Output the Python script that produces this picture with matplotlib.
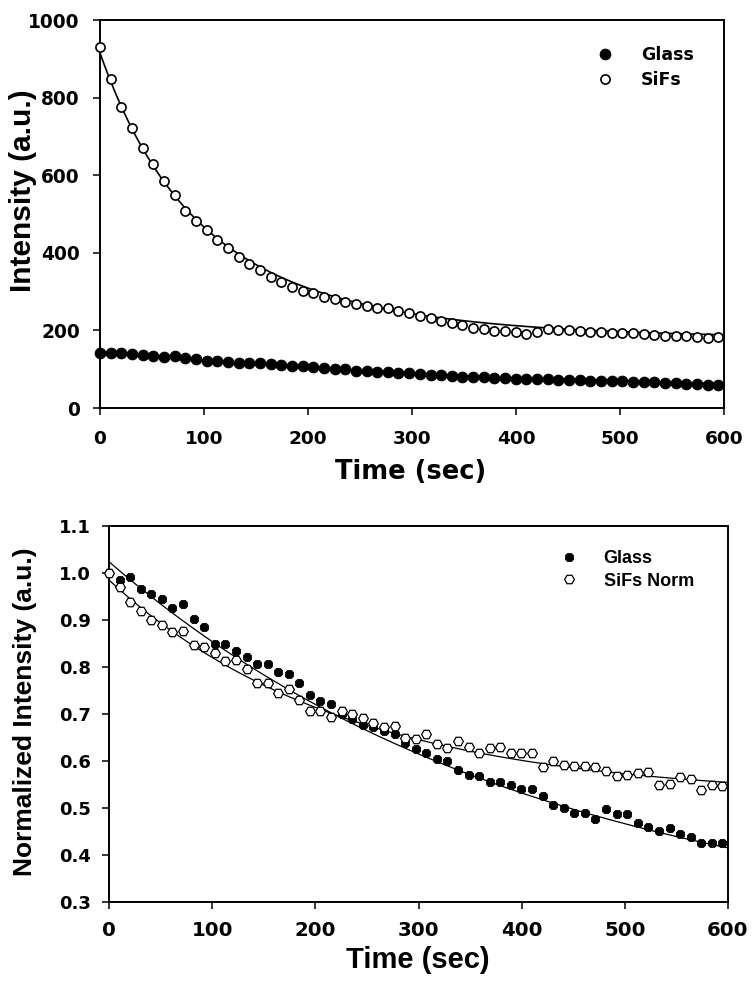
import matplotlib
matplotlib.use('Agg')
import matplotlib.pyplot as plt
import numpy as np

# ---------------- data ----------------
time_s = [0, 10.3, 20.5, 30.8, 41, 51.3, 61.5, 71.8, 82, 92.3, 102.5, 112.8, 123, 133.3,
          143.5, 153.8, 164, 174.3, 184.5, 194.8, 205, 215.3, 225.5, 235.8, 246, 256.3,
          266.5, 276.8, 287, 297.3, 307.5, 317.8, 328, 338.3, 348.5, 358.8, 369, 379.3,
          389.5, 399.8, 410, 420.3, 430.5, 440.8, 451, 461.3, 471.5, 481.8, 492, 502.3,
          512.5, 522.8, 533, 543.3, 553.5, 563.8, 574, 584.3, 594.5]

glass_raw = [143, 141, 143, 138, 136, 134, 131, 134, 128, 126,
             122, 121, 119, 117, 115, 115, 113, 112, 109, 107,
             105, 104, 100, 100, 96, 95, 94, 92, 90, 89,
             88, 86, 85, 83, 81, 79, 79, 77, 77, 76,
             76, 75, 74, 73, 72, 71, 70, 70, 70, 69,
             68, 67, 66, 65, 64, 62, 61, 60, 59]

sifs_raw = [931, 848, 775, 722, 671, 629, 586, 548, 509, 481,
            458, 433, 413, 390, 371, 356, 337, 325, 313, 302,
            296, 287, 281, 273, 268, 263, 259, 257, 251, 244,
            237, 232, 223, 218, 213, 207, 203, 199, 199, 195,
            191, 197, 203, 201, 201, 199, 197, 195, 193, 193,
            193, 191, 188, 186, 186, 186, 184, 180, 182]

glass_norm = [1.000, 0.985, 0.992, 0.967, 0.955, 0.945, 0.925, 0.933, 0.903, 0.885,
              0.850, 0.849, 0.833, 0.821, 0.806, 0.806, 0.790, 0.786, 0.767, 0.741,
              0.728, 0.721, 0.701, 0.690, 0.676, 0.672, 0.664, 0.658, 0.638, 0.625,
              0.616, 0.604, 0.599, 0.581, 0.570, 0.568, 0.556, 0.556, 0.548, 0.540,
              0.540, 0.526, 0.506, 0.499, 0.489, 0.489, 0.476, 0.497, 0.487, 0.487,
              0.469, 0.460, 0.451, 0.458, 0.445, 0.439, 0.425, 0.425, 0.425]

sifs_norm = [1.000, 0.971, 0.939, 0.919, 0.899, 0.889, 0.874, 0.876, 0.846, 0.843,
             0.829, 0.812, 0.815, 0.796, 0.767, 0.765, 0.745, 0.753, 0.730, 0.707,
             0.706, 0.693, 0.706, 0.701, 0.691, 0.681, 0.672, 0.675, 0.650, 0.646,
             0.657, 0.636, 0.628, 0.643, 0.629, 0.618, 0.627, 0.629, 0.616, 0.618,
             0.616, 0.587, 0.600, 0.591, 0.589, 0.589, 0.588, 0.579, 0.568, 0.570,
             0.574, 0.577, 0.549, 0.552, 0.567, 0.562, 0.538, 0.549, 0.547]

# exponential-decay regression curves (parameters)
sifs_fit = (180.0, 320.0, 65.0, 415.0, 155.0)      # c, a1, tau1, a2, tau2
glass_fit = (40.0, 104.0, 400.0)                    # c, a, tau
glass_norm_fit = (0.224, 0.80, 419.0)
sifs_norm_fit = (0.521, 0.464, 228.0)

top_xticks = [0, 100, 200, 300, 400, 500, 600]
top_yticks = [0, 200, 400, 600, 800, 1000]
bot_yticks = [0.3, 0.4, 0.5, 0.6, 0.7, 0.8, 0.9, 1.0, 1.1]


def decay1(t, p):
    c, a, tau = p
    return c + a * np.exp(-t / tau)


def decay2(t, p):
    c, a1, t1, a2, t2 = p
    return c + a1 * np.exp(-t / t1) + a2 * np.exp(-t / t2)


t_line = np.linspace(0, 600, 400)
t = np.array(time_s)

DJ = 'DejaVu Sans'
LB = 'Liberation Sans'

fig = plt.figure(figsize=(7.56, 9.94), dpi=100)
fig.patch.set_facecolor('white')


def style_axes(ax, tick_fs_x, tick_fs_y, padx, pady):
    for s in ax.spines.values():
        s.set_linewidth(1.4)
        s.set_color('black')
    ax.tick_params(axis='both', direction='out', length=5, width=1.1, color='black',
                   top=False, right=False)
    ax.tick_params(axis='x', pad=padx)
    ax.tick_params(axis='y', pad=pady)
    for lab in ax.get_xticklabels():
        lab.set_fontfamily(DJ); lab.set_fontweight('bold'); lab.set_fontsize(tick_fs_x)
    for lab in ax.get_yticklabels():
        lab.set_fontfamily(DJ); lab.set_fontweight('bold'); lab.set_fontsize(tick_fs_y)


# ---------------- top panel ----------------
ax1 = fig.add_axes([100 / 756, 1 - 408 / 994, 624 / 756, 388 / 994])
ax1.plot(t_line, decay1(t_line, glass_fit), color='black', lw=1.0, zorder=2)
ax1.plot(t_line, decay2(t_line, sifs_fit), color='black', lw=1.2, zorder=2)
ax1.plot(t, glass_raw, linestyle='none', marker='o', ms=7.6, mfc='black', mec='black',
         mew=0.8, label='Glass', clip_on=False, zorder=3)
ax1.plot(t, sifs_raw, linestyle='none', marker='o', ms=6.6, mfc='white', mec='black',
         mew=1.2, label='SiFs', clip_on=False, zorder=3)
ax1.set_xlim(0, 600)
ax1.set_ylim(0, 1000)
ax1.set_xticks(top_xticks)
ax1.set_yticks(top_yticks)
style_axes(ax1, 13.3, 13.4, 10.5, 9.5)
ax1.set_xlabel('Time (sec)', fontfamily=DJ, fontweight='bold', fontsize=18.5, va='center')
ax1.xaxis.set_label_coords(0.498, -0.165)
ax1.set_ylabel('Intensity (a.u.)', fontfamily=LB, fontweight='bold', fontsize=21.5, va='center')
ax1.yaxis.set_label_coords(-0.123, 0.56)
leg1 = ax1.legend(loc='center left', bbox_to_anchor=(0.795, 0.878), frameon=False,
                  handlelength=1.0, handletextpad=1.6, labelspacing=0.4, borderpad=0,
                  borderaxespad=0, prop={'family': DJ, 'weight': 'bold', 'size': 12.5})

# ---------------- bottom panel ----------------
ax2 = fig.add_axes([109 / 756, 1 - 902 / 994, 619 / 756, 376 / 994])
ax2.plot(t_line, decay1(t_line, glass_norm_fit), color='black', lw=0.9, zorder=2)
ax2.plot(t_line, decay1(t_line, sifs_norm_fit), color='black', lw=0.9, zorder=2)
ax2.plot(t, glass_norm, linestyle='none', marker='8', ms=6.5, mfc='black', mec='black',
         mew=0.6, label='Glass', clip_on=False, zorder=3)
ax2.plot(t, sifs_norm, linestyle='none', marker='H', ms=7.0, mfc='white', mec='black',
         mew=0.9, label='SiFs Norm', clip_on=False, zorder=4)
ax2.set_xlim(0, 600)
ax2.set_ylim(0.3, 1.1)
ax2.set_xticks(top_xticks)
ax2.set_yticks(bot_yticks)
ax2.set_yticklabels([f'{v:.1f}' for v in bot_yticks])
style_axes(ax2, 14.2, 13.0, 9.0, 8.0)
ax2.set_xlabel('Time (sec)', fontfamily=LB, fontweight='bold', fontsize=21, va='center')
ax2.xaxis.set_label_coords(0.499, -0.154)
ax2.set_ylabel('Normalized Intensity (a.u.)', fontfamily=LB, fontweight='bold', fontsize=19,
               va='center')
ax2.yaxis.set_label_coords(-0.136, 0.505)
leg2 = ax2.legend(loc='center left', bbox_to_anchor=(0.729, 0.883), frameon=False,
                  handlelength=1.0, handletextpad=1.4, labelspacing=0.3, borderpad=0,
                  borderaxespad=0, prop={'family': LB, 'weight': 'bold', 'size': 13})

fig.savefig('out.png', dpi=100, facecolor='white')
